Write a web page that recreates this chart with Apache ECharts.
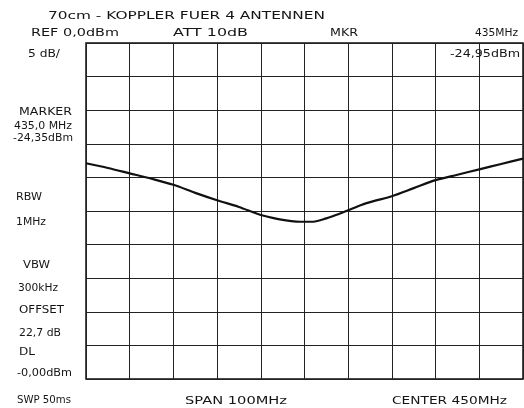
<!DOCTYPE html>
<html><head><meta charset="utf-8">
<script src="https://cdn.jsdelivr.net/npm/echarts@6/dist/echarts.min.js"></script>
<style>html,body{margin:0;padding:0;background:#fff}#c{width:524px;height:408px}</style>
</head><body><div id="c"></div>
<script>
// Trace: frequency (MHz) and level (dBm)
var freqMHz = [400,405,410,415,420,425,430,435,440,444,447,449,452,455,458,460,463,466,470,475,480,485,490,495,500];
var levelDbm = [-17.9,-18.6,-19.4,-20.2,-21.1,-22.3,-23.4,-24.4,-25.6,-26.2,-26.5,-26.6,-26.6,-26.1,-25.4,-24.9,-24.1,-23.5,-22.8,-21.6,-20.4,-19.6,-18.8,-18.0,-17.2];
var xRange = [400, 500];
var yRange = [-50, 0];

var titleText = "70cm - KOPPLER FUER 4 ANTENNEN";
var headerTexts = ["REF 0,0dBm", "ATT 10dB", "MKR", "435MHz"];
var scaleText = "5 dB/";
var markerReadout = "-24,95dBm";
var sideTexts = ["MARKER", "435,0 MHz", "-24,35dBm", "RBW", "1MHz", "VBW", "300kHz", "OFFSET", "22,7 dB", "DL", "-0,00dBm"];
var footerTexts = ["SWP 50ms", "SPAN 100MHz", "CENTER 450MHz"];

var chart = echarts.init(document.getElementById('c'));
var FONT = "DejaVu Sans";
var ctx = document.createElement('canvas').getContext('2d');
var K = 4;
function txt(s, x, y, w, size, align) {
  ctx.font = (size * K) + 'px ' + FONT;
  var mw = ctx.measureText(s).width;
  var sx = w / mw;
  var ox = align === 'right' ? x - w : x;
  return {
    type: 'text', x: ox, y: y, scaleX: sx, scaleY: 1 / K, silent: true,
    style: { text: s, fontSize: size * K, fontFamily: FONT, fontWeight: 'normal', fill: '#151515', verticalAlign: 'middle', textVerticalAlign: 'middle' }
  };
}

var g = [];
g.push(txt(titleText, 48, 16, 277, 11));
g.push(txt(headerTexts[0], 31, 33, 88, 10.5));
g.push(txt(headerTexts[1], 173, 33, 75, 10.5));
g.push(txt(headerTexts[2], 330, 33, 28, 10.5));
g.push(txt(headerTexts[3], 475, 33, 43, 10.5));
g.push(txt(scaleText, 28, 54, 32, 10));
g.push(txt(markerReadout, 450, 54, 70, 10));
g.push(txt(sideTexts[0], 72, 112, 53, 10, 'right'));
g.push(txt(sideTexts[1], 72, 126, 58, 10, 'right'));
g.push(txt(sideTexts[2], 73, 138, 60, 10, 'right'));
g.push(txt(sideTexts[3], 16, 197, 26, 10));
g.push(txt(sideTexts[4], 16, 222, 30, 10));
g.push(txt(sideTexts[5], 23, 265, 27, 10));
g.push(txt(sideTexts[6], 18, 288, 40, 10));
g.push(txt(sideTexts[7], 19, 310, 45, 10));
g.push(txt(sideTexts[8], 19, 333, 42, 10));
g.push(txt(sideTexts[9], 19, 352, 16, 10));
g.push(txt(sideTexts[10], 17, 373, 55, 10));
g.push(txt(footerTexts[0], 17, 400, 54, 10));
g.push(txt(footerTexts[1], 185, 401, 102, 10));
g.push(txt(footerTexts[2], 392, 401, 115, 10));

chart.setOption({
  animation: false,
  backgroundColor: '#fff',
  grid: { left: 86, top: 43, width: 437, height: 336, show: true, borderColor: '#111', borderWidth: 1.5, backgroundColor: 'transparent' },
  xAxis: { type: 'value', min: xRange[0], max: xRange[1], interval: 10,
    axisLine: { show: false }, axisTick: { show: false }, axisLabel: { show: false },
    splitLine: { show: true, lineStyle: { color: '#222', width: 1 } } },
  yAxis: { type: 'value', min: yRange[0], max: yRange[1], interval: 5,
    axisLine: { show: false }, axisTick: { show: false }, axisLabel: { show: false },
    splitLine: { show: true, lineStyle: { color: '#222', width: 1 } } },
  series: [{
    type: 'line', smooth: 0.3, symbol: 'none',
    data: freqMHz.map(function (f, i) { return [f, levelDbm[i]]; }),
    lineStyle: { color: '#111', width: 2.2 }
  }],
  graphic: g
});
</script></body></html>
